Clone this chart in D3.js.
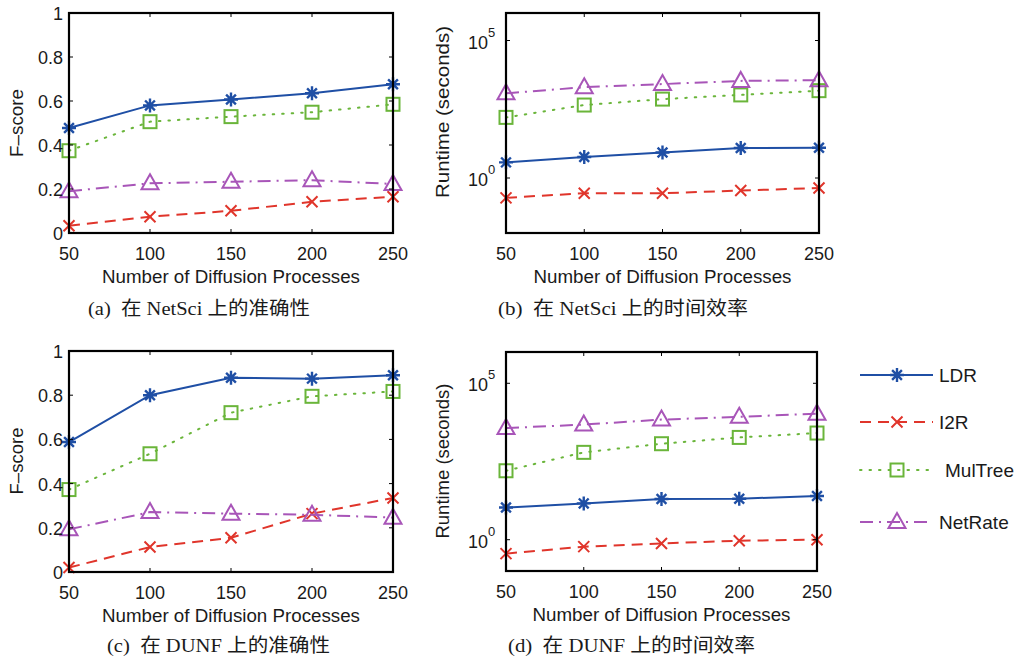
<!DOCTYPE html>
<html>
<head>
<meta charset="utf-8">
<script src="https://cdn.jsdelivr.net/npm/d3@7"></script>
<style>
  body { margin: 0; background: #fff; }
  text { font-family: "Liberation Sans", Arial, sans-serif; fill: #1a1a1a; }
  .cap { font-family: "Liberation Serif", "Noto Sans CJK SC", serif; font-size: 19px; }
</style>
</head>
<body>
<div id="chart-area"></div>
<script>
// x values shared by all panels
const processes = [50, 100, 150, 200, 250]

// (a) NetSci F-score
const ldrA = [0.477, 0.58, 0.607, 0.635, 0.676]
const i2rA = [0.033, 0.074, 0.101, 0.142, 0.165]
const mulA = [0.374, 0.506, 0.529, 0.549, 0.585]
const netA = [0.19, 0.226, 0.233, 0.24, 0.223]

// (b) NetSci runtime (seconds)
const ldrB = [3.7, 5.8, 8.5, 12.3, 12.6]
const i2rB = [0.19, 0.28, 0.28, 0.35, 0.43]
const mulB = [160, 450, 740, 1050, 1500]
const netB = [1200, 2000, 2600, 3400, 3600]

// (c) DUNF F-score
const ldrC = [0.588, 0.80, 0.879, 0.875, 0.89]
const i2rC = [0.02, 0.113, 0.155, 0.264, 0.335]
const mulC = [0.373, 0.535, 0.721, 0.795, 0.817]
const netC = [0.193, 0.271, 0.264, 0.259, 0.246]

// (d) DUNF runtime (seconds)
const ldrD = [10.7, 14.5, 20, 20.4, 25]
const i2rD = [0.36, 0.6, 0.76, 0.93, 1.0]
const mulD = [160, 620, 1170, 1860, 2570]
const netD = [3700, 4800, 6900, 8500, 10700]

const linearTicks = [0, 0.2, 0.4, 0.6, 0.8, 1]
const logTicks = [1, 100000]
const seriesNames = ["LDR", "I2R", "MulTree", "NetRate"]

const styles = {
  LDR:     { color: "#1f4fa5", dash: null,           marker: "star" },
  I2R:     { color: "#e0352b", dash: "11,7",         marker: "x" },
  MulTree: { color: "#6ab53a", dash: "1.5,8",        marker: "square" },
  NetRate: { color: "#a855b8", dash: "13,6,2,6",     marker: "triangle" }
}

const panels = [
  { box: [69, 393, 13, 233], log: false, data: [ldrA, i2rA, mulA, netA], ylab: "F\u2013score", ylx: 17, yly: 123, ylen: 68,
    cap: "(a)\u00a0\u00a0在 NetSci 上的准确性", capx: 88, capy: 315, capw: 222 },
  { box: [506, 819, 13, 233], log: true, dom: [1e-2, 1e6], data: [ldrB, i2rB, mulB, netB], ylab: "Runtime (seconds)", ylx: 443, yly: 112, ylen: 172,
    cap: "(b)\u00a0\u00a0在 NetSci 上的时间效率", capx: 498, capy: 315, capw: 250 },
  { box: [69, 393, 351, 572], log: false, data: [ldrC, i2rC, mulC, netC], ylab: "F\u2013score", ylx: 17, yly: 461, ylen: 67,
    cap: "(c)\u00a0\u00a0在 DUNF 上的准确性", capx: 107, capy: 652, capw: 223 },
  { box: [506, 817, 352, 571], log: true, dom: [1e-1, 1e6], data: [ldrD, i2rD, mulD, netD], ylab: "Runtime (seconds)", ylx: 443, yly: 461, ylen: 155,
    cap: "(d)\u00a0\u00a0在 DUNF 上的时间效率", capx: 508, capy: 652, capw: 247 }
]

const svg = d3.select("#chart-area").append("svg")
  .attr("width", 1030)
  .attr("height", 660)

function drawMarker(g, type, cx, cy, color) {
  const m = g.append("g").attr("transform", `translate(${cx}, ${cy})`)
    .attr("fill", "none").attr("stroke", color).attr("stroke-width", 2)
  if (type === "star") {
    const r = 7
    m.append("path").attr("d", `M${-r},0H${r}M0,${-r}V${r}M${-r*0.7},${-r*0.7}L${r*0.7},${r*0.7}M${-r*0.7},${r*0.7}L${r*0.7},${-r*0.7}`)
      .attr("stroke-width", 2.4)
  } else if (type === "x") {
    const r = 5.5
    m.append("path").attr("d", `M${-r},${-r}L${r},${r}M${-r},${r}L${r},${-r}`)
  } else if (type === "square") {
    m.append("rect").attr("x", -6.5).attr("y", -6.5).attr("width", 13).attr("height", 13)
  } else {
    m.append("path").attr("d", "M0,-9L8.5,6L-8.5,6Z")
  }
}

panels.forEach(p => {
  const [L, R, T, B] = p.box
  const g = svg.append("g")

  const x = d3.scaleLinear().domain([50, 250]).range([L, R])
  const y = p.log
    ? d3.scaleLog().domain(p.dom).range([B, T])
    : d3.scaleLinear().domain([0, 1]).range([B, T])
  const yTicks = p.log ? logTicks : linearTicks

  // series lines
  p.data.forEach((vals, i) => {
    const st = styles[seriesNames[i]]
    const line = d3.line()
      .x((d, j) => x(processes[j]))
      .y(d => y(d))
    g.append("path")
      .attr("d", line(vals))
      .attr("fill", "none")
      .attr("stroke", st.color)
      .attr("stroke-width", 2)
      .attr("stroke-dasharray", st.dash)
      .attr("stroke-linecap", st.marker === "square" ? "round" : "butt")
    vals.forEach((v, j) => drawMarker(g, st.marker, x(processes[j]), y(v), st.color))
  })

  // box
  g.append("rect")
    .attr("x", L).attr("y", T).attr("width", R - L).attr("height", B - T)
    .attr("fill", "none").attr("stroke", "#000").attr("stroke-width", 2.2)

  // inside ticks
  processes.forEach(v => {
    g.append("line").attr("x1", x(v)).attr("x2", x(v)).attr("y1", B).attr("y2", B - 4).attr("stroke", "#000")
    g.append("line").attr("x1", x(v)).attr("x2", x(v)).attr("y1", T).attr("y2", T + 4).attr("stroke", "#000")
    g.append("text")
      .attr("x", x(v)).attr("y", B + 27)
      .attr("text-anchor", "middle")
      .style("font-size", "18px")
      .text(v)
  })
  yTicks.forEach(v => {
    g.append("line").attr("x1", L).attr("x2", L + 4).attr("y1", y(v)).attr("y2", y(v)).attr("stroke", "#000")
    g.append("line").attr("x1", R).attr("x2", R - 4).attr("y1", y(v)).attr("y2", y(v)).attr("stroke", "#000")
    if (p.log) {
      g.append("text")
        .attr("x", L - 18).attr("y", y(v) + 8)
        .attr("text-anchor", "end")
        .style("font-size", "18px")
        .text("10")
      g.append("text")
        .attr("x", L - 18).attr("y", y(v) - 4)
        .style("font-size", "13px")
        .text(Math.round(Math.log10(v)))
    } else {
      g.append("text")
        .attr("x", L - 6).attr("y", y(v) + 7)
        .attr("text-anchor", "end")
        .style("font-size", "18px")
        .text(d3.format("")(v))
    }
  })

  // axis labels
  g.append("text")
    .attr("x", (L + R) / 2).attr("y", B + 50)
    .attr("text-anchor", "middle")
    .style("font-size", "18px")
    .attr("textLength", 258).attr("lengthAdjust", "spacingAndGlyphs")
    .text("Number of Diffusion Processes")
  g.append("text")
    .attr("transform", `translate(${p.ylx + 6}, ${p.yly}) rotate(-90)`)
    .attr("text-anchor", "middle")
    .style("font-size", "18px")
    .attr("textLength", p.ylen).attr("lengthAdjust", "spacingAndGlyphs")
    .text(p.ylab)

  // caption
  g.append("text")
    .attr("class", "cap")
    .attr("x", p.capx).attr("y", p.capy)
    .attr("textLength", p.capw).attr("lengthAdjust", "spacingAndGlyphs")
    .text(p.cap)
})

// legend
const legendY = [375, 422, 470, 522]
const legend = svg.append("g")
seriesNames.forEach((name, i) => {
  const st = styles[name]
  const ly = legendY[i]
  legend.append("line")
    .attr("x1", 860).attr("x2", 933).attr("y1", ly).attr("y2", ly)
    .attr("stroke", st.color).attr("stroke-width", 2)
    .attr("stroke-dasharray", st.dash)
    .attr("stroke-linecap", st.marker === "square" ? "round" : "butt")
  drawMarker(legend, st.marker, 897, ly, st.color)
  legend.append("text")
    .attr("x", i === 2 ? 945 : 939).attr("y", ly + 7)
    .style("font-size", "19px")
    .text(name)
})
</script>
</body>
</html>
